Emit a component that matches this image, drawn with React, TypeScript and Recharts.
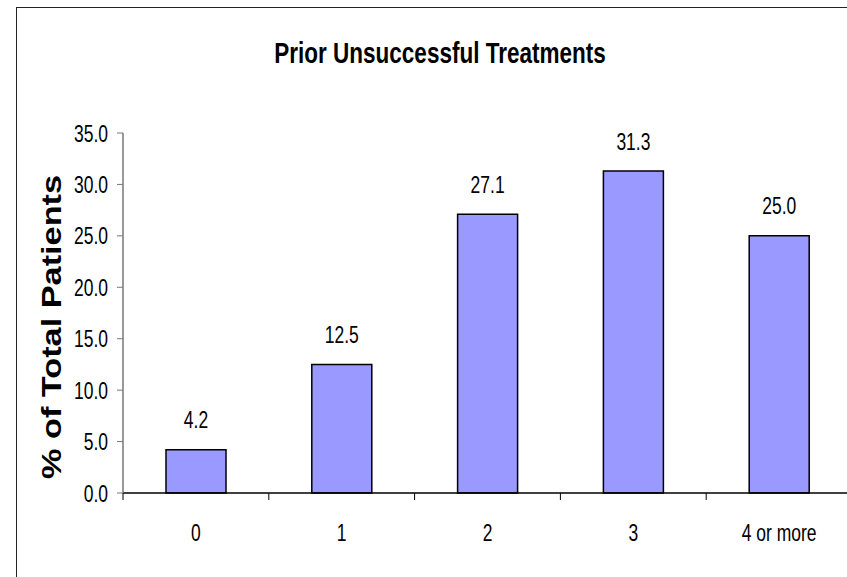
import React from 'react';
import { BarChart, Bar, XAxis, YAxis, LabelList } from 'recharts';

const categories = ['0', '1', '2', '3', '4 or more'];
const percents = [4.2, 12.5, 27.1, 31.3, 25.0];
const yTicks = [0, 5, 10, 15, 20, 25, 30, 35];

const data = categories.map((name, i) => ({ name, value: percents[i] }));

const FONT = '"Liberation Sans", Arial, sans-serif';

// the source picture is stretched vertically, so text gets a y-scale
const Stretch = ({ x, y, size, bold, anchor = 'middle', sy = 1.35, children }: any) => (
  <text
    transform={`translate(${x},${y}) scale(1,${sy})`}
    textAnchor={anchor}
    dominantBaseline="central"
    fontFamily={FONT}
    fontSize={size}
    fontWeight={bold ? 'bold' : 'normal'}
    fill="#000"
  >
    {children}
  </text>
);

const YTick = (props: any) => {
  const { x, y, payload } = props;
  return (
    <Stretch x={x} y={y} size={17.5} anchor="end">
      {Number(payload.value).toFixed(1)}
    </Stretch>
  );
};

const XTick = (props: any) => {
  const { x, y, payload } = props;
  const half = payload.offset || 0;
  return (
    <g>
      <line x1={x - half} y1={y} x2={x - half} y2={y + 7} stroke="#000" strokeWidth={1} />
      <Stretch x={x} y={y + 39} size={17.5}>
        {payload.value}
      </Stretch>
    </g>
  );
};

const ValueLabel = (props: any) => {
  const { x, y, width, value } = props;
  return (
    <Stretch x={x + width / 2} y={y - 30} size={17.5}>
      {Number(value).toFixed(1)}
    </Stretch>
  );
};

export default function App() {
  return (
    <div
      style={{
        position: 'absolute',
        left: 0,
        top: 0,
        width: 847,
        height: 577,
        overflow: 'hidden',
        background: '#fff',
      }}
    >
      <div
        style={{
          position: 'absolute',
          left: 16,
          top: 7,
          width: 900,
          height: 700,
          border: '1.5px solid #222',
        }}
      />
      <div style={{ position: 'absolute', left: 0, top: 0 }}>
        <BarChart
          width={860}
          height={577}
          data={data}
          margin={{ top: 133, right: 8, bottom: 24, left: 0 }}
        >
          <XAxis
            dataKey="name"
            height={60}
            axisLine={{ stroke: '#000', strokeWidth: 1.5 }}
            tickLine={false}
            tickSize={0}
            tickMargin={0}
            interval={0}
            tick={<XTick />}
          />
          <YAxis
            width={123}
            domain={[0, 35]}
            ticks={yTicks}
            interval={0}
            axisLine={{ stroke: '#777', strokeWidth: 1.5 }}
            tickLine={{ stroke: '#777' }}
            tickSize={6}
            tickMargin={9}
            tick={<YTick />}
          />
          <Bar
            dataKey="value"
            fill="#9999FF"
            stroke="#000"
            strokeWidth={1.5}
            barSize={60}
            isAnimationActive={false}
          >
            <LabelList dataKey="value" content={<ValueLabel />} />
          </Bar>
        </BarChart>
      </div>
      <svg
        width={847}
        height={577}
        style={{ position: 'absolute', left: 0, top: 0, pointerEvents: 'none' }}
      >
        <Stretch x={440} y={53} size={22.5} bold sy={1.33}>
          Prior Unsuccessful Treatments
        </Stretch>
        <text
          transform="translate(52,327) rotate(-90) scale(1.27,1)"
          textAnchor="middle"
          dominantBaseline="central"
          fontFamily={FONT}
          fontSize={27}
          fontWeight="bold"
          fill="#000"
        >
          % of Total Patients
        </text>
      </svg>
    </div>
  );
}
